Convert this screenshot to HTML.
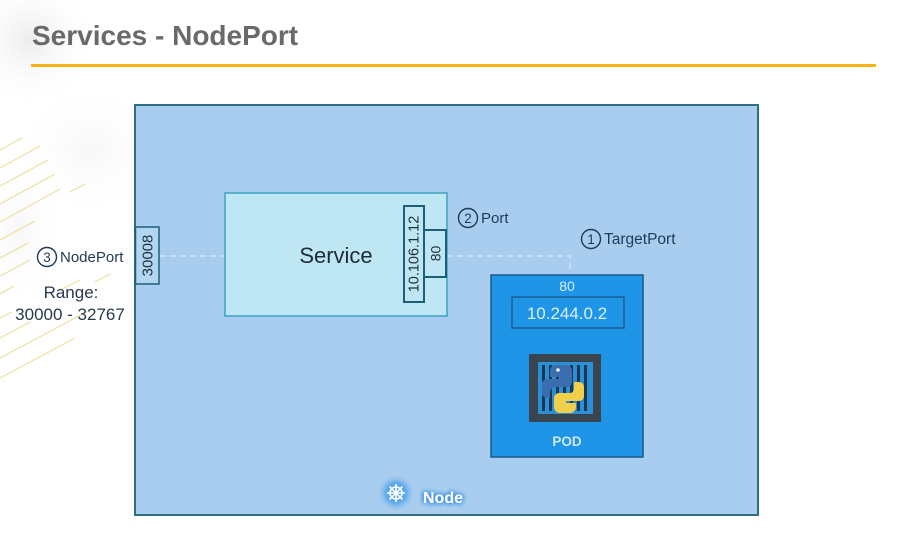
<!DOCTYPE html>
<html><head><meta charset="utf-8"><style>
html,body{margin:0;padding:0;background:#fff;}
body{width:898px;height:538px;overflow:hidden;}
svg{display:block;}
text{font-family:"Liberation Sans",sans-serif;}
</style></head><body>
<svg width="898" height="538" viewBox="0 0 898 538" xmlns="http://www.w3.org/2000/svg">
<defs>
<radialGradient id="cloud1" cx="0.5" cy="0.5" r="0.5">
<stop offset="0" stop-color="#e2e2e2" stop-opacity="0.8"/>
<stop offset="1" stop-color="#ffffff" stop-opacity="0"/>
</radialGradient>
<radialGradient id="glow" cx="0.5" cy="0.5" r="0.5">
<stop offset="0" stop-color="#3f97e8" stop-opacity="1"/>
<stop offset="0.55" stop-color="#5aa8ec" stop-opacity="0.9"/>
<stop offset="1" stop-color="#a9cdee" stop-opacity="0"/>
</radialGradient>
<filter id="tglow" x="-30%" y="-60%" width="160%" height="220%">
<feGaussianBlur in="SourceAlpha" stdDeviation="2.5" result="b"/>
<feFlood flood-color="#3a90e4"/>
<feComposite in2="b" operator="in" result="c"/>
<feMerge><feMergeNode in="c"/><feMergeNode in="c"/><feMergeNode in="c"/><feMergeNode in="SourceGraphic"/></feMerge>
</filter>
</defs>

<!-- background cloud -->
<ellipse cx="30" cy="40" rx="70" ry="70" fill="url(#cloud1)" opacity="0.8"/>
<ellipse cx="90" cy="150" rx="80" ry="70" fill="url(#cloud1)" opacity="0.35"/>
<ellipse cx="20" cy="230" rx="50" ry="80" fill="url(#cloud1)" opacity="0.35"/>

<!-- yellow stripes -->
<g stroke="#ecd27a" stroke-width="1.2" opacity="0.75" fill="none">
<line x1="0" y1="150" x2="22" y2="138"/>
<line x1="0" y1="168" x2="40" y2="146"/>
<line x1="0" y1="186" x2="48" y2="160"/>
<line x1="0" y1="204" x2="55" y2="174"/>
<line x1="0" y1="222" x2="60" y2="189"/>
<line x1="0" y1="240" x2="35" y2="221"/>
<line x1="0" y1="258" x2="28" y2="243"/>
<line x1="0" y1="276" x2="30" y2="260"/>
<line x1="0" y1="294" x2="14" y2="286"/>
<line x1="0" y1="318" x2="12" y2="312"/>
<line x1="0" y1="338" x2="30" y2="322"/>
<line x1="0" y1="358" x2="90" y2="310"/>
<line x1="0" y1="378" x2="75" y2="338"/>
<line x1="70" y1="192" x2="85" y2="184"/>
<line x1="95" y1="282" x2="110" y2="274"/>
<line x1="60" y1="290" x2="80" y2="280"/>
</g>

<!-- title -->
<text x="32" y="45" font-size="28" font-weight="bold" fill="#6a6a6a">Services - NodePort</text>
<rect x="31" y="64" width="845" height="3" fill="#f8b511"/>

<!-- node -->
<rect x="135" y="105" width="623" height="410" fill="#a9cdee" stroke="#2f6f82" stroke-width="2"/>

<!-- connectors -->
<g stroke="#e3effa" stroke-width="1.5" stroke-dasharray="6,4" fill="none" opacity="0.7">
<line x1="160" y1="256" x2="225" y2="256"/>
<polyline points="447,256 570,256 570,272"/>
</g>

<!-- 30008 -->
<rect x="135.5" y="227" width="23.5" height="57" fill="#b3d6f0" stroke="#1e5f78" stroke-width="1.5"/>
<text transform="translate(148,255.5) rotate(-90)" text-anchor="middle" dominant-baseline="central" font-size="15" fill="#1d2d3d">30008</text>

<!-- service -->
<rect x="225" y="193" width="222" height="123" fill="#bfe6f3" stroke="#3ea2c4" stroke-width="1.5"/>
<text x="336" y="263" text-anchor="middle" font-size="22" fill="#1b2b3b">Service</text>
<rect x="404" y="206" width="20" height="96" fill="#bfe6f3" stroke="#1e5f78" stroke-width="2"/>
<text transform="translate(414.5,254) rotate(-90)" text-anchor="middle" dominant-baseline="central" font-size="14.5" fill="#1d2d3d">10.106.1.12</text>
<rect x="424" y="230" width="22" height="47" fill="#bfe6f3" stroke="#1e5f78" stroke-width="2"/>
<text transform="translate(435.5,253.5) rotate(-90)" text-anchor="middle" dominant-baseline="central" font-size="14" fill="#1d2d3d">80</text>

<!-- labels -->
<circle cx="468" cy="218" r="9.5" fill="none" stroke="#1f3a55" stroke-width="1.4"/>
<text x="468" y="223" text-anchor="middle" font-size="13.5" fill="#1f3a55">2</text>
<text x="481" y="223" font-size="15" fill="#1f3a55">Port</text>

<circle cx="591" cy="239" r="9.5" fill="none" stroke="#1f3a55" stroke-width="1.4"/>
<text x="591" y="244" text-anchor="middle" font-size="13.5" fill="#1f3a55">1</text>
<text x="604" y="244" font-size="15.5" fill="#1f3a55">TargetPort</text>

<circle cx="47" cy="257" r="9.5" fill="none" stroke="#1f3a55" stroke-width="1.4"/>
<text x="47" y="262" text-anchor="middle" font-size="13.5" fill="#1f3a55">3</text>
<text x="60" y="262" font-size="15" fill="#1f3a55">NodePort</text>
<text x="71" y="298" text-anchor="middle" font-size="17" fill="#2a3a4c">Range:</text>
<text x="70" y="320" text-anchor="middle" font-size="17" fill="#2a3a4c">30000 - 32767</text>

<!-- pod -->
<rect x="491" y="275" width="152" height="182" fill="#1e95e6" stroke="#1a5888" stroke-width="1.5"/>
<text x="567" y="291" text-anchor="middle" font-size="14" fill="#d4ecfc">80</text>
<rect x="512" y="297" width="112" height="31" fill="#1e95e6" stroke="#1a5f94" stroke-width="1.5"/>
<text x="567" y="319" text-anchor="middle" font-size="17" fill="#dcf0fd">10.244.0.2</text>

<!-- python container icon -->
<rect x="529" y="354" width="72" height="68" fill="#39444f"/>
<rect x="538" y="362" width="55" height="52" fill="#2b8fd6"/>
<g fill="#1c3550">
<rect x="542" y="365" width="3" height="46"/>
<rect x="549" y="365" width="3" height="46"/>
<rect x="556" y="365" width="3" height="46"/>
<rect x="563" y="365" width="3" height="46"/>
<rect x="570" y="365" width="3" height="46"/>
<rect x="577" y="365" width="3" height="46"/>
<rect x="584" y="365" width="3" height="46"/>
</g>
<!-- python logo -->
<path d="M556 365 h10 a6 6 0 0 1 6 6 v11 a5 5 0 0 1 -5 5 h-11 a6 6 0 0 0 -6 6 v5 h-3 a5 5 0 0 1 -5 -5 v-9 a5 5 0 0 1 5 -5 h13 v-2 h-10 v-6 a6 6 0 0 1 6 -6 z" fill="#3b6eae"/>
<circle cx="558" cy="370" r="1.8" fill="#e8f2fb"/>
<path d="M574 382 h5 a5 5 0 0 1 5 5 v9 a5 5 0 0 1 -5 5 h-13 v2 h10 v4 a6 6 0 0 1 -6 6 h-10 a6 6 0 0 1 -6 -6 v-9 a5 5 0 0 1 5 -5 h11 a4 4 0 0 0 4 -4 z" fill="#f3d04c"/>

<text x="567" y="446" text-anchor="middle" font-size="13.5" font-weight="bold" fill="#cfe6f8">POD</text>

<!-- node label -->
<circle cx="396" cy="493" r="19" fill="url(#glow)"/>
<g stroke="#ffffff" stroke-width="1.6" fill="none">
<circle cx="396" cy="493" r="6"/>
<line x1="396" y1="484" x2="396" y2="502"/>
<line x1="387" y1="493" x2="405" y2="493"/>
<line x1="389.6" y1="486.6" x2="402.4" y2="499.4"/>
<line x1="402.4" y1="486.6" x2="389.6" y2="499.4"/>
</g>
<circle cx="396" cy="493" r="2" fill="#ffffff"/>
<text x="423" y="503" font-size="16" font-weight="bold" fill="#ffffff" filter="url(#tglow)">Node</text>
</svg>
</body></html>
